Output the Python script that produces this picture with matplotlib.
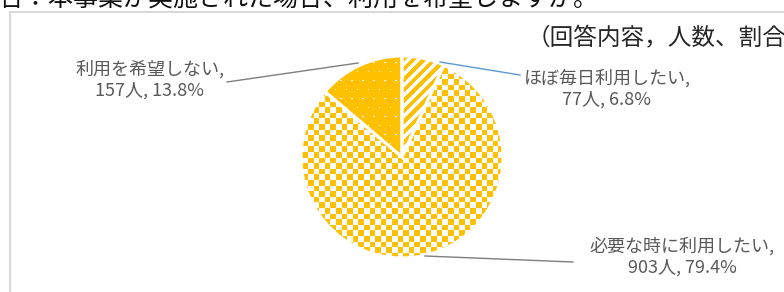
import matplotlib
matplotlib.use("Agg")

import matplotlib.pyplot as plt
from matplotlib.patches import Rectangle
import numpy as np

plt.rcParams['font.family'] = ['Noto Sans CJK JP', 'DejaVu Sans']

# survey answers, counts and shares
categories = ['ほぼ毎日利用したい', '必要な時に利用したい', '利用を希望しない']
counts = [77, 903, 157]
shares = [6.8, 79.4, 13.8]
patterns = ['stripes', 'checker', 'dots']

question = '合：本事業が実施された場合、利用を希望しますか。'
heading = '（回答内容，人数、割合）'

GOLD = (1.0, 0.753, 0.0)
W, H = 784, 292

fig = plt.figure(figsize=(W / 100, H / 100), dpi=100)
ax = fig.add_axes([0, 0, 1, 1])


def img(x, y):
    # picture coords (y down) -> data coords (y up)
    return x, H - y


cx, cy = img(402, 157)
r = 101

wedges, _ = ax.pie(shares, startangle=90, counterclock=False, center=(cx, cy),
                   radius=r, colors=['white'] * 3,
                   wedgeprops=dict(edgecolor='none', linewidth=0))

# fill patterns, rendered at pixel resolution and clipped to each wedge
x0, x1, y0, y1 = cx - r - 2, cx + r + 2, cy - r - 2, cy + r + 2
xs = np.arange(x0, x1) + 0.5
ys = np.arange(y0, y1) + 0.5
X, Y = np.meshgrid(xs, ys)


def pattern(kind):
    if kind == 'checker':
        s = 5.6
        m = ((np.floor(X / s) + np.floor(Y / s)) % 2) == 0
    elif kind == 'stripes':
        p = 10.5
        m = ((X - Y) % p) < p * 0.5
    else:
        sx, sy = 11.0, 9.0
        row = np.floor(Y / sy)
        xx = (X + (row % 2) * sx / 2) % sx
        yy = Y % sy
        m = ~((np.abs(xx - sx / 2) < 0.8) & (np.abs(yy - sy / 2) < 0.8))
    rgb = np.ones(X.shape + (3,))
    rgb[m] = GOLD
    return rgb


for w, kind in zip(wedges, patterns):
    im = ax.imshow(pattern(kind), extent=(x0, x1, y0, y1), origin='lower',
                   interpolation='nearest', zorder=2)
    im.set_clip_path(w)

ax.pie(shares, startangle=90, counterclock=False, center=(cx, cy), radius=r,
       colors=['none'] * 3,
       wedgeprops=dict(edgecolor='white', linewidth=2.2, zorder=3))

# labels and leader lines
label_pos = [(607, 89), (682, 257), (150, 80)]
leaders = [[(440, 62), (520, 75)], [(425, 256), (573, 262)], [(227, 82), (358, 63)]]
leader_colors = ['#5B9BD5', '#7F7F7F', '#7F7F7F']

for cat, n, p, pos, seg, lc in zip(categories, counts, shares, label_pos, leaders, leader_colors):
    lx, ly = img(*pos)
    ax.text(lx, ly, f'{cat},\n{n}人, {p}%', ha='center', va='center',
            fontsize=13, color='#595959', linespacing=1.2, zorder=5)
    (ax_, ay_), (bx_, by_) = img(*seg[0]), img(*seg[1])
    ax.plot([ax_, bx_], [ay_, by_], color=lc, lw=1.0, zorder=4)

# frame and headings
ax.add_patch(Rectangle(img(10, 300), 800, 288, fill=False,
                       edgecolor='#D9D9D9', lw=1.5, zorder=1))
ax.text(*img(527, 39), heading, ha='left', va='center', fontsize=17, color='#262626')
ax.text(*img(-2, 6), question, ha='left', va='baseline', fontsize=18, color='#111111')

ax.set_xlim(0, W)
ax.set_ylim(0, H)
ax.set_aspect('equal')
ax.axis('off')

fig.savefig('out.png', dpi=100)
